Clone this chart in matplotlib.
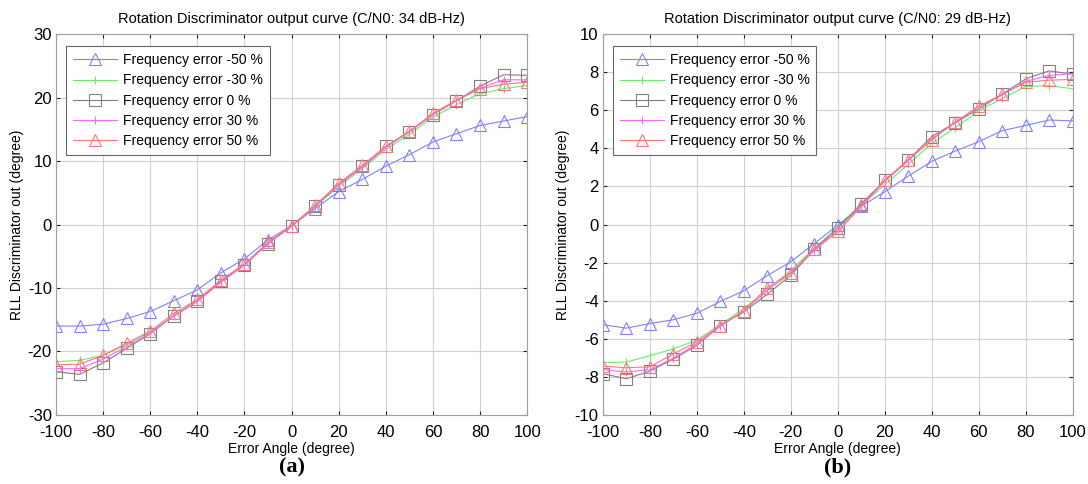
import numpy as np
import matplotlib
matplotlib.use('Agg')
import matplotlib.pyplot as plt

plt.rcParams['font.family'] = ['Liberation Sans', 'DejaVu Sans']
plt.rcParams['axes.unicode_minus'] = False

# Error angle (degree)
angles = [-100, -90, -80, -70, -60, -50, -40, -30, -20, -10, 0,
          10, 20, 30, 40, 50, 60, 70, 80, 90, 100]

# panel (a): C/N0 34 dB-Hz
a_m50 = [-16.0, -16.0, -15.7, -14.8, -13.7, -12.0, -10.3, -7.6, -5.4, -2.4, -0.2,
         2.5, 5.2, 7.1, 9.2, 11.0, 13.0, 14.3, 15.6, 16.3, 17.0]
a_m30 = [-21.6, -21.4, -20.6, -18.9, -16.9, -14.4, -11.9, -8.9, -6.2, -2.9, -0.3,
         2.8, 6.0, 8.8, 11.8, 14.2, 16.9, 18.9, 20.6, 21.4, 21.9]
a_0 = [-23.2, -23.6, -21.8, -19.5, -17.2, -14.4, -12.1, -8.9, -6.3, -3.0, -0.2,
       2.9, 6.3, 9.2, 12.3, 14.6, 17.3, 19.5, 21.8, 23.6, 23.5]
a_p30 = [-22.7, -22.7, -21.2, -19.2, -17.1, -14.4, -12.1, -9.1, -6.4, -3.0, -0.3,
         2.9, 6.3, 9.0, 12.1, 14.6, 17.3, 19.5, 21.5, 22.8, 22.8]
a_p50 = [-22.1, -22.0, -20.6, -18.7, -16.8, -14.0, -11.8, -8.8, -6.2, -2.8, -0.2,
         3.0, 6.5, 9.3, 12.3, 14.7, 17.5, 19.6, 21.4, 22.1, 22.4]

# panel (b): C/N0 29 dB-Hz
b_m50 = [-5.26, -5.44, -5.2, -5.0, -4.66, -4.04, -3.48, -2.68, -1.96, -1.0, -0.04,
         0.96, 1.72, 2.54, 3.32, 3.86, 4.35, 4.93, 5.2, 5.49, 5.44]
b_m30 = [-7.25, -7.22, -6.89, -6.53, -6.07, -5.26, -4.41, -3.41, -2.41, -1.23, -0.18,
         1.0, 2.09, 3.17, 4.26, 5.08, 5.98, 6.62, 7.25, 7.29, 7.13]
b_0 = [-7.83, -8.1, -7.7, -7.07, -6.35, -5.31, -4.59, -3.66, -2.67, -1.31, -0.18,
       1.09, 2.32, 3.39, 4.62, 5.35, 6.07, 6.85, 7.65, 8.07, 7.89]
b_p30 = [-7.62, -7.74, -7.62, -7.02, -6.26, -5.35, -4.53, -3.48, -2.54, -1.36, -0.36,
         0.94, 2.27, 3.35, 4.5, 5.35, 6.2, 6.8, 7.52, 7.83, 7.92]
b_p50 = [-7.43, -7.52, -7.47, -6.8, -6.16, -5.31, -4.53, -3.32, -2.54, -1.27, -0.36,
         1.0, 2.32, 3.41, 4.44, 5.39, 6.2, 6.85, 7.47, 7.58, 7.62]

labels = ['Frequency error -50 %', 'Frequency error -30 %', 'Frequency error 0 %',
          'Frequency error 30 %', 'Frequency error 50 %']
colors = ['#8080ff', '#66ee66', '#808080', '#ff66ff', '#ff7777']
markers = ['^', '|', 's', '|', '^']
msizes = [8, 6, 8, 6, 8]

fig = plt.figure(figsize=(10.88, 4.84), dpi=100)
ax1 = fig.add_axes([0.0515, 0.1426, 0.433, 0.787])
ax2 = fig.add_axes([0.554, 0.1426, 0.432, 0.787])

panels = [
    (ax1, [a_m50, a_m30, a_0, a_p30, a_p50], 30, 10,
     'Rotation Discriminator output curve (C/N0: 34 dB-Hz)', '(a)'),
    (ax2, [b_m50, b_m30, b_0, b_p30, b_p50], 10, 2,
     'Rotation Discriminator output curve (C/N0: 29 dB-Hz)', '(b)'),
]

for ax, series, lim, step, title, tag in panels:
    for ys, lab, c, m, ms in zip(series, labels, colors, markers, msizes):
        ax.plot(angles, ys, color=c, lw=0.8, marker=m, ms=ms,
                mfc='none', mec=c, mew=0.8, label=lab)
    ax.set_xlim(-100, 100)
    ax.set_ylim(-lim, lim)
    ax.set_xticks(np.arange(-100, 101, 20))
    ax.set_yticks(np.arange(-lim, lim + 0.1, step))
    ax.grid(True, color='#d0d0d0', lw=0.8)
    ax.tick_params(direction='in', top=True, right=True, labelsize=12,
                   length=3, color='#222222')
    ax.tick_params(axis='x', pad=7)
    ax.tick_params(axis='y', pad=3)
    for sp in ax.spines.values():
        sp.set_color('#a0a0a0')
        sp.set_linewidth(0.8)
    ax.set_title(title, fontsize=10.5, pad=8)
    ax.set_xlabel('Error Angle (degree)', fontsize=10, labelpad=2)
    ax.set_ylabel('RLL Discriminator out (degree)', fontsize=10, labelpad=3)
    leg = ax.legend(loc='upper left', bbox_to_anchor=(0.021, 0.968), borderaxespad=0,
                    fontsize=10, handlelength=3.2, handletextpad=0.4, borderpad=0.5,
                    labelspacing=0.45, fancybox=False, framealpha=1,
                    edgecolor='#666666')
    leg.get_frame().set_linewidth(0.8)
    ax.text(0.5, -0.139, tag, transform=ax.transAxes, ha='center', va='center',
            fontsize=16, fontweight='bold', family=['Liberation Serif', 'DejaVu Serif'])

fig.savefig('out.png', dpi=100)
